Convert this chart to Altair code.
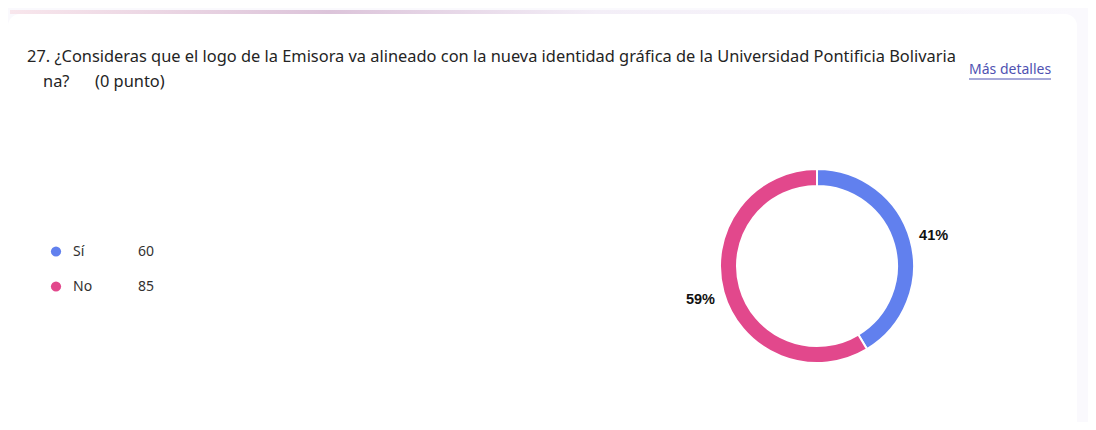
import altair as alt
import pandas as pd

categories = ["Sí", "No"]
counts = [60, 85]
colors = ["#6180EE", "#E2488C"]

title_line1 = "27. ¿Consideras que el logo de la Emisora va alineado con la nueva identidad gráfica de la Universidad Pontificia Bolivaria"
title_line2 = "na?\u00a0\u00a0\u00a0\u00a0\u00a0\u00a0(0 punto)"
link_text = "Más detalles"

total = sum(counts)
df = pd.DataFrame({
    "cat": categories,
    "n": counts,
    "order": list(range(len(categories))),
    "pct": [f"{round(c / total * 100)}%" for c in counts],
})

W, H = 1080, 414
cx, cy = 817 - 8, 266 - 8
font = "Noto Sans"

color_scale = alt.Scale(domain=categories, range=colors)

base = alt.Chart(df)

card = alt.Chart(pd.DataFrame({"a": [0]})).mark_rect(
    color="white", cornerRadius=12
).encode(x=alt.value(0), x2=alt.value(1069), y=alt.value(6), y2=alt.value(430))

band = alt.Chart(pd.DataFrame({"a": [0]})).mark_rect(
    color=alt.LinearGradient(
        gradient="linear", x1=0, x2=1, y1=0, y2=0,
        stops=[
            alt.GradientStop(color="#F8E6EC", offset=0),
            alt.GradientStop(color="#DCC4DA", offset=0.3),
            alt.GradientStop(color="#F3EEF7", offset=0.55),
            alt.GradientStop(color="#FAF9FD", offset=1),
        ],
    )
).encode(x=alt.value(2), x2=alt.value(1068), y=alt.value(2), y2=alt.value(6))

arc = base.mark_arc(innerRadius=80, outerRadius=97, stroke="white", strokeWidth=2).encode(
    theta=alt.Theta("n:Q", stack=True),
    order=alt.Order("order:Q"),
    color=alt.Color("cat:N", scale=color_scale, legend=None),
    x=alt.value(cx), y=alt.value(cy),
)

pct_text = base.mark_text(
    radius=121, font="Liberation Sans", fontSize=14.5, fontWeight="bold", color="#111111",
    align="center", baseline="middle", dy=2
).encode(
    theta=alt.Theta("n:Q", stack=True),
    order=alt.Order("order:Q"),
    text="pct:N",
    x=alt.value(cx), y=alt.value(cy),
)

ypos = alt.Y("cat:N", scale=alt.Scale(type="point", domain=categories, range=[243.5, 278.5], padding=0), axis=None)

dots = base.mark_circle(size=105, opacity=1).encode(
    x=alt.value(48), y=ypos,
    color=alt.Color("cat:N", scale=color_scale, legend=None),
)
lab = base.mark_text(align="left", baseline="middle", font=font, fontSize=14, color="#323130").encode(
    x=alt.value(65), y=ypos, text="cat:N"
)
val = base.mark_text(align="left", baseline="middle", font=font, fontSize=14, color="#323130").encode(
    x=alt.value(130), y=ypos, text="n:Q"
)

tdf = pd.DataFrame({"t": [title_line1, title_line2], "x": [19, 35], "y": [49, 74]})
titles = alt.Chart(tdf).mark_text(
    align="left", baseline="middle", font=font, fontSize=16.4, color="#242424"
).encode(
    x=alt.X("x:Q", scale=alt.Scale(domain=[0, W], range=[0, W]), axis=None),
    y=alt.Y("y:Q", scale=alt.Scale(domain=[0, H], range=[0, H]), axis=None),
    text="t:N",
)

link = alt.Chart(pd.DataFrame({"t": [link_text]})).mark_text(
    align="left", baseline="middle", font=font, fontSize=14, color="#4F52B2"
).encode(x=alt.value(961), y=alt.value(62), text="t:N")
underline = alt.Chart(pd.DataFrame({"a": [0]})).mark_rule(color="#4F52B2", strokeWidth=1).encode(
    x=alt.value(961), x2=alt.value(1043), y=alt.value(71)
)

chart = alt.layer(card, band, titles, link, underline, dots, lab, val, arc, pct_text).resolve_scale(
    x="independent", y="independent", theta="independent"
).properties(
    width=W, height=H, autosize=alt.AutoSizeParams(type="none"), padding=0,
    background="#FAF9FD",
).configure_view(stroke=None)

chart.save("out.html", embed_options={"renderer": "svg", "actions": False})
